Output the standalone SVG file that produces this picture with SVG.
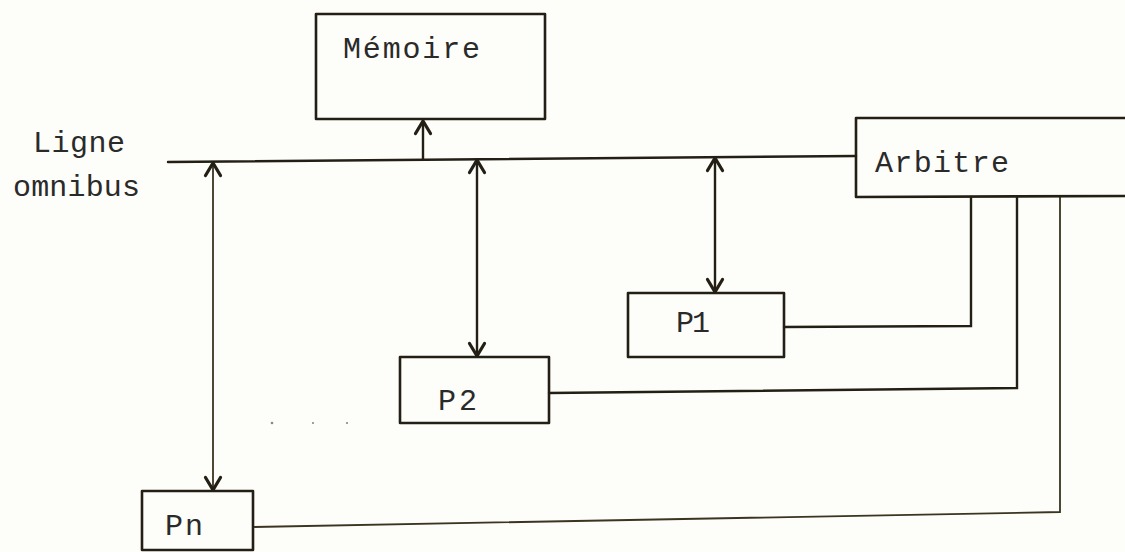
<svg xmlns="http://www.w3.org/2000/svg" width="1125" height="552" viewBox="0 0 1125 552">
<style>
.box{fill:none;stroke:#231f14;stroke-width:2.6;stroke-linejoin:round}
.ln{fill:none;stroke:#231f14;stroke-width:2.4;stroke-linecap:round}
.thin{fill:none;stroke:#3a3420;stroke-width:1.8;stroke-linecap:round}
.t{font-family:"Liberation Mono","Courier New",monospace;font-size:30px;fill:#2a2a2a}
</style>
<defs>
<marker id="ah" markerUnits="userSpaceOnUse" markerWidth="20" markerHeight="20" viewBox="-12 -8 14 16" refX="0" refY="0" orient="auto-start-reverse">
<path d="M-10,-6 L0,0 L-10,6" fill="none" stroke="#231f14" stroke-width="2.6" stroke-linecap="round" stroke-linejoin="round"/>
</marker>
</defs>
<rect width="1125" height="552" fill="#fdfdf9"/>
<g id="connectors">
<line id="bus" class="ln" x1="168" y1="162" x2="856" y2="156"/>
<line class="ln" x1="423" y1="159" x2="423" y2="121" marker-end="url(#ah)"/>
<line class="thin" x1="213" y1="163" x2="213" y2="490" marker-start="url(#ah)" marker-end="url(#ah)"/>
<line class="ln" x1="477" y1="160" x2="477" y2="356" marker-start="url(#ah)" marker-end="url(#ah)"/>
<line class="ln" x1="715" y1="158" x2="715" y2="292" marker-start="url(#ah)" marker-end="url(#ah)"/>
<path class="ln" d="M784,327 L971,326 L971,197"/>
<path class="ln" d="M549,393 L1017,388 L1017,197"/>
<path class="thin" d="M253,527 L1060,512 L1060,197"/>
</g>
<g id="memoire">
<rect class="box" x="316" y="14" width="229" height="105"/>
<text class="t" x="343" y="58" textLength="137">Mémoire</text>
</g>
<g id="arbitre">
<path class="box" d="M1125,118 L856,118 L856,197 L1125,196"/>
<text class="t" x="875" y="172" textLength="134">Arbitre</text>
</g>
<g id="ligne">
<text class="t" x="33" y="152" textLength="92">Ligne</text>
<text class="t" x="13" y="196" textLength="127">omnibus</text>
</g>
<g id="p1">
<rect class="box" x="628" y="293" width="156" height="64"/>
<text class="t" x="676" y="332" textLength="34">P1</text>
</g>
<g id="p2">
<rect class="box" x="400" y="357" width="149" height="66"/>
<text class="t" x="438" y="410" textLength="39">P2</text>
</g>
<g id="pn">
<rect class="box" x="142" y="491" width="111" height="59"/>
<text class="t" x="165" y="535" textLength="38">Pn</text>
</g>
<g id="dots" fill="#888">
<circle cx="272" cy="423" r="1.3"/>
<circle cx="313" cy="423" r="1.1"/>
<circle cx="347" cy="423" r="1.1"/>
</g>
</svg>
